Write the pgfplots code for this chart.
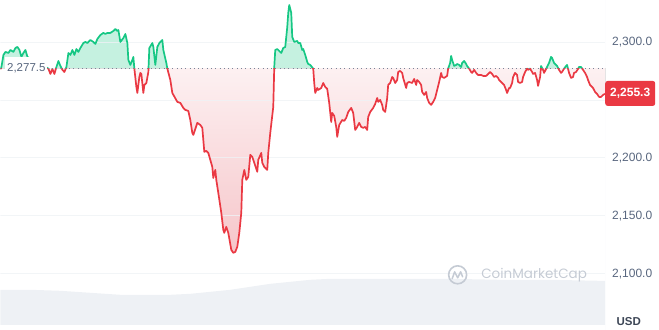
\documentclass[border=0pt]{standalone}
\usepackage{fontspec}
\setmainfont{Liberation Sans}
\newfontfamily\poppins{Poppins}
\usepackage{pgfplots}
\usepackage{pgfplotstable}
\usepgfplotslibrary{fillbetween}
\pgfplotsset{compat=1.18}
\definecolor{up}{HTML}{16C784}
\definecolor{down}{HTML}{EA3943}
\definecolor{gridc}{HTML}{EFF2F5}
\definecolor{txt}{HTML}{58667E}
\definecolor{vol}{HTML}{EEF1F5}
\definecolor{wm}{HTML}{C5CBD4}
\definecolor{usd}{HTML}{3D4656}
\definecolor{redbot}{HTML}{F6C6CA}

\pgfplotstableread{
x y
0 2276.5
1 2278.5
3 2288.8
5 2291.4
8 2290.5
10 2293.1
13 2291.4
15 2294.8
17 2295.7
19 2293.1
21 2287.1
23 2290.5
25 2293.1
27 2287.1
48 2277.0
50 2272.4
52 2276.7
54 2272.4
56 2278.4
58 2283.6
60 2279.3
62 2275.9
64 2274.1
66 2278.4
68 2290.5
70 2288.8
72 2293.1
74 2288.8
76 2293.9
78 2291.4
80 2294.8
83 2299.1
85 2300.0
87 2299.1
90 2301.7
93 2300.0
95 2298.3
97 2302.6
100 2306.0
103 2307.8
105 2306.9
107 2307.8
110 2307.8
113 2309.5
115 2311.2
117 2309.5
118 2310.3
120 2300.0
123 2303.4
125 2306.9
127 2299.1
128 2284.5
130 2280.2
132 2284.5
133 2287.1
134 2277.0
136 2261.2
137 2256.0
139 2269.8
140 2273.3
141 2272.4
143 2256.0
144 2262.9
146 2264.6
148 2274.1
149 2294.8
152 2299.1
153 2295.7
155 2280.2
157 2295.7
159 2299.1
162 2301.7
163 2293.1
166 2281.9
167 2277.0
170 2267.2
172 2256.0
177 2248.3
180 2247.4
183 2243.1
185 2241.4
188 2240.5
190 2232.7
192 2221.5
193 2219.8
197 2230.2
200 2228.4
202 2225.9
204 2205.2
206 2206.0
208 2204.3
212 2192.2
213 2182.7
215 2189.6
216 2181.0
218 2169.8
221 2152.6
223 2138.0
224 2135.3
226 2140.5
228 2135.3
231 2120.7
233 2118.1
235 2118.9
237 2123.3
239 2135.3
241 2152.6
242 2181.0
244 2189.6
246 2181.0
248 2183.6
250 2202.6
252 2200.9
254 2195.7
257 2188.0
258 2198.3
261 2204.3
262 2195.7
264 2192.2
267 2189.6
268 2204.3
270 2221.5
273 2244.0
274 2278.4
275 2293.1
277 2293.9
279 2292.2
281 2290.5
283 2294.8
285 2295.7
287 2312.9
288 2325.0
289 2331.9
291 2325.0
292 2304.3
294 2300.0
297 2300.9
298 2299.1
300 2299.1
302 2293.1
303 2293.9
305 2288.8
307 2282.8
308 2281.0
310 2280.2
313 2277.0
314 2264.6
315 2256.0
317 2260.3
318 2258.6
321 2260.3
323 2264.6
325 2261.2
327 2259.5
329 2247.4
331 2231.0
332 2238.8
334 2236.2
336 2226.7
337 2218.1
339 2228.4
342 2232.7
344 2231.9
346 2234.5
348 2239.6
351 2243.1
353 2238.8
355 2224.1
357 2226.7
359 2230.2
361 2226.7
363 2225.9
365 2226.7
367 2224.1
368 2235.3
370 2239.6
373 2243.1
375 2246.5
377 2251.7
378 2248.3
380 2250.0
382 2245.7
383 2241.4
385 2239.6
387 2251.7
388 2262.9
390 2264.6
392 2269.8
393 2269.0
395 2264.6
397 2267.2
398 2274.1
400 2275.0
402 2273.3
403 2269.0
406 2260.3
407 2264.6
409 2265.5
412 2264.6
414 2268.1
416 2262.9
417 2267.2
419 2265.5
421 2262.9
422 2256.9
424 2254.3
426 2256.9
427 2251.7
429 2247.4
431 2245.7
433 2248.3
435 2251.7
437 2258.6
439 2265.5
441 2273.3
442 2269.8
444 2269.0
447 2270.7
448 2277.0
450 2281.9
451 2287.9
452 2284.5
454 2279.3
456 2280.2
457 2281.0
459 2280.2
461 2278.4
462 2281.9
464 2283.6
466 2281.0
467 2279.3
469 2277.0
471 2274.1
472 2273.3
474 2275.9
476 2273.3
478 2271.5
481 2271.5
483 2270.7
486 2270.7
488 2272.4
490 2274.1
492 2272.4
494 2269.8
496 2270.7
498 2269.0
499 2267.2
502 2264.6
504 2262.9
506 2258.6
507 2256.0
509 2260.3
510 2260.3
512 2264.6
513 2269.8
515 2273.3
517 2271.5
518 2265.5
520 2264.6
522 2265.5
523 2269.8
525 2274.1
527 2277.0
528 2275.9
530 2277.0
532 2274.1
533 2272.4
535 2273.3
537 2267.2
538 2262.1
540 2269.8
541 2279.3
543 2275.9
544 2273.3
546 2276.7
548 2280.2
549 2281.9
551 2287.1
552 2286.2
554 2281.9
556 2280.2
557 2279.3
559 2275.9
561 2273.3
562 2274.1
564 2277.0
566 2279.3
567 2280.2
569 2273.3
571 2269.0
573 2269.8
574 2273.3
576 2274.1
578 2276.7
579 2278.4
581 2278.4
583 2275.9
585 2273.3
587 2269.8
588 2267.2
590 2262.9
593 2260.3
595 2256.9
597 2255.2
599 2252.6
601 2252.6
603 2254.3
605 2255.3
}\price

\pgfplotstableread{
x v
0 35
30 35
60 34
90 32
120 30
150 30
170 30
190 31
210 33
230 35
250 38
270 41
290 43
310 45
330 46
360 46
400 46
450 46
500 45
550 45
600 44
605 44
}\volume

\begin{document}
\begin{tikzpicture}
% upper fill: clipped to the area above the open price
\begin{axis}[at={(0,261.91pt)}, anchor=south west, scale only axis, width=605pt, height=68.09pt,
  xmin=0, xmax=605, ymin=2277.5, ymax=2336.2, hide axis]
\addplot[name path=pu, draw=none] table[x=x,y=y]{\price};
\addplot[name path=bu, draw=none] coordinates {(0,2277.5) (605,2277.5)};
\addplot[fill=up, fill opacity=0.25, draw=none] fill between[of=pu and bu];
\end{axis}
% lower fill: gradient below the open price (clipped by this axis)
\begin{axis}[at={(0,0)}, anchor=south west, scale only axis, width=605pt, height=261.91pt,
  xmin=0, xmax=605, ymin=2051.7, ymax=2277.5, hide axis]
\addplot[name path=pd, draw=none] table[x=x,y=y]{\price};
\addplot[name path=bd, draw=none] coordinates {(0,2277.5) (605,2277.5)};
\addplot[top color=white, bottom color=redbot, draw=none] fill between[of=pd and bd];
\end{axis}
% volume
\begin{axis}[at={(0,0)}, anchor=south west, scale only axis, width=605pt, height=330pt,
  xmin=0, xmax=605, ymin=-5, ymax=325, hide axis]
\addplot[fill=vol, draw=none] table[x=x,y=v]{\volume} \closedcycle;
\end{axis}
% main price axis
\begin{axis}[at={(0,0)}, anchor=south west, scale only axis, width=605pt, height=330pt,
  xmin=0, xmax=605, ymin=2051.7, ymax=2336.2,
  axis line style={draw=none}, xtick=\empty, major tick length=0pt,
  ytick={2100,2150,2200,2300}, yticklabel pos=right,
  yticklabel style={font=\fontsize{12}{14}\selectfont, text=txt, anchor=west, inner sep=0pt, xshift=7pt,
    /pgf/number format/fixed, /pgf/number format/fixed zerofill,
    /pgf/number format/precision=1, /pgf/number format/1000 sep={,},
    /pgf/number format/assume math mode=true}]
\pgfplotsinvokeforeach{2100,2150,2200,2250,2300}{\draw[gridc, opacity=0.8, line width=0.8pt] (axis cs:0,#1) -- (axis cs:605,#1);}
\draw[gridc, line width=0.8pt] (axis cs:605,2051.7) -- (axis cs:605,2336.2);
\coordinate (bl) at (axis cs:0,2277.5);
\coordinate (br) at (axis cs:605,2277.5);
\coordinate (lastp) at (axis cs:605,2255.6);
\coordinate (lbl) at (axis cs:4.5,2277.2);
\end{axis}
% green part of the line (above the open price)
\begin{axis}[at={(0,261.91pt)}, anchor=south west, scale only axis, width=605pt, height=68.09pt,
  xmin=0, xmax=605, ymin=2277.5, ymax=2336.2, hide axis]
\addplot[up, line width=1.7pt, line join=round] table[x=x,y=y]{\price};
\end{axis}
% red part of the line (below the open price)
\begin{axis}[at={(0,0)}, anchor=south west, scale only axis, width=605pt, height=261.91pt,
  xmin=0, xmax=605, ymin=2051.7, ymax=2277.5, hide axis]
\addplot[down, line width=1.7pt, line join=round] table[x=x,y=y]{\price};
\end{axis}
% reference line and labels
\draw[txt!80, line width=0.9pt, dash pattern=on 0.9pt off 3.4pt] (bl) -- (br);
\node[fill=white, text=txt, anchor=west, inner xsep=2pt, minimum height=22pt,
  font=\fontsize{11.5}{13}\selectfont] at (lbl) {2,277.5};
\node[fill=down, text=white, anchor=west, rounded corners=2.5pt, inner xsep=5pt,
  minimum height=25pt, font=\bfseries\fontsize{12}{14}\selectfont] at (lastp) {2,255.3};
\node[text=usd, font=\bfseries\fontsize{11.5}{13}\selectfont, anchor=west] at (613pt,8pt) {USD};
% watermark
\draw[wm, line width=1.6pt] (457.5pt,55pt) circle (9pt);
\draw[wm, line width=1.5pt, line join=round, line cap=round]
  (452pt,51pt) -- (454.5pt,58pt) -- (457.5pt,52pt) -- (460.5pt,58pt) -- (462.5pt,53pt);
\node[text=wm, anchor=west, inner sep=0pt, font=\poppins\fontsize{13.5}{15}\selectfont] at (481pt,54.5pt) {CoinMarketCap};
\path (0,0) rectangle (659pt,330pt);
\end{tikzpicture}
\end{document}
